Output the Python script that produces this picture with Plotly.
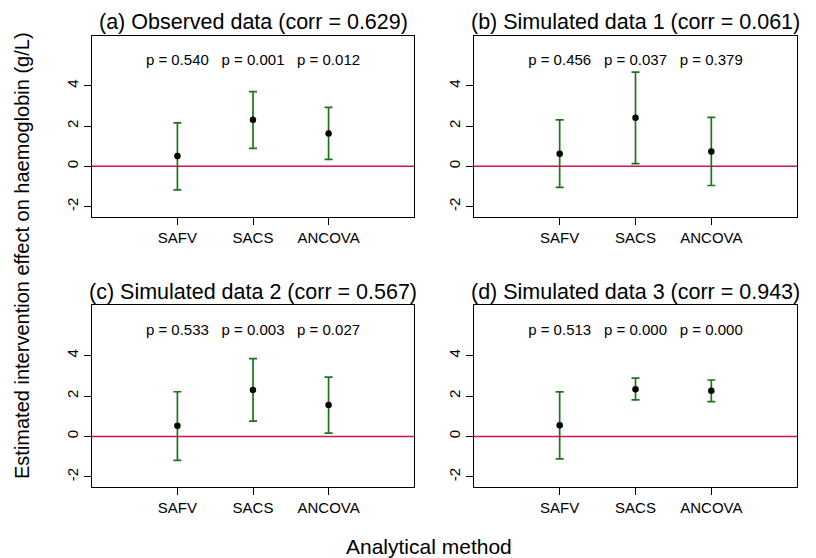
import plotly.graph_objects as go

methods = ["SAFV", "SACS", "ANCOVA"]
method_pos = [1, 2, 3]

titles = [
    "(a) Observed data (corr = 0.629)",
    "(b) Simulated data 1 (corr = 0.061)",
    "(c) Simulated data 2 (corr = 0.567)",
    "(d) Simulated data 3 (corr = 0.943)",
]

est_a = [0.51, 2.31, 1.63]
lo_a = [-1.17, 0.89, 0.35]
hi_a = [2.16, 3.71, 2.93]
p_a = ["0.540", "0.001", "0.012"]

est_b = [0.63, 2.41, 0.74]
lo_b = [-1.04, 0.14, -0.95]
hi_b = [2.31, 4.68, 2.43]
p_b = ["0.456", "0.037", "0.379"]

est_c = [0.53, 2.30, 1.55]
lo_c = [-1.18, 0.76, 0.16]
hi_c = [2.21, 3.85, 2.93]
p_c = ["0.533", "0.003", "0.027"]

est_d = [0.55, 2.33, 2.26]
lo_d = [-1.11, 1.81, 1.72]
hi_d = [2.20, 2.88, 2.79]
p_d = ["0.513", "0.000", "0.000"]

panels = [
    (est_a, lo_a, hi_a, p_a),
    (est_b, lo_b, hi_b, p_b),
    (est_c, lo_c, hi_c, p_c),
    (est_d, lo_d, hi_d, p_d),
]

yticks = [-2, 0, 2, 4]
p_label_y = 5.2

W, H = 816, 558
xdoms = [(92, 414), (474, 797)]
ydoms = [(35.5, 216.7), (305, 487)]

GREEN = "#1B751B"
RED = "#D6124A"
FONT = "Liberation Sans, Arial, sans-serif"

fig = go.Figure()
layout = dict(
    width=W, height=H, margin=dict(l=0, r=0, t=0, b=0),
    paper_bgcolor="white", plot_bgcolor="white", showlegend=False,
    font=dict(family=FONT, color="black"),
)
annotations = []
shapes = []

for i, (est, lo, hi, pv) in enumerate(panels):
    row, col = divmod(i, 2)
    n = i + 1
    xa = "xaxis" if n == 1 else f"xaxis{n}"
    ya = "yaxis" if n == 1 else f"yaxis{n}"
    xr = "x" if n == 1 else f"x{n}"
    yr = "y" if n == 1 else f"y{n}"
    x0, x1 = xdoms[col]
    t0, b0 = ydoms[row]
    layout[xa] = dict(
        domain=[x0 / W, x1 / W], anchor=yr, range=[-0.13, 4.13],
        tickvals=method_pos, ticktext=methods, ticks="outside", ticklen=7,
        tickcolor="black", showline=True, linecolor="black", linewidth=1,
        mirror=True, showgrid=False, zeroline=False,
        tickfont=dict(size=15, family=FONT), fixedrange=True,
    )
    layout[ya] = dict(
        domain=[1 - b0 / H, 1 - t0 / H], anchor=xr, range=[-2.5, 6.5],
        tickvals=yticks, ticktext=[str(v) for v in yticks], ticks="outside",
        ticklen=7, tickcolor="black", tickangle=-90, showline=True,
        linecolor="black", linewidth=1, mirror=True, showgrid=False,
        zeroline=False, tickfont=dict(size=15, family=FONT), fixedrange=True,
    )
    shapes.append(dict(
        type="line", xref=f"{xr} domain", yref=yr, x0=0, x1=1, y0=0, y1=0,
        line=dict(color=RED, width=1.5), layer="below",
    ))
    fig.add_trace(go.Scatter(
        x=method_pos, y=est, xaxis=xr, yaxis=yr, mode="markers",
        marker=dict(color="black", size=6.5),
        error_y=dict(
            type="data", symmetric=False,
            array=[h - e for h, e in zip(hi, est)],
            arrayminus=[e - l for e, l in zip(est, lo)],
            color=GREEN, thickness=1.7, width=4,
        ),
    ))
    fig.add_trace(go.Scatter(
        x=method_pos, y=[p_label_y] * 3, xaxis=xr, yaxis=yr, mode="text",
        text=[f"p = {p}" for p in pv], textposition="middle center",
        textfont=dict(size=15, family=FONT, color="black"),
    ))
    annotations.append(dict(
        text=titles[i], xref="paper", yref="paper",
        x=(x0 + x1) / 2 / W, y=1 - (t0 - 13) / H, xanchor="center",
        yanchor="middle", showarrow=False,
        font=dict(size=21.5, family=FONT, color="black"),
    ))

annotations.append(dict(
    text="Analytical method", xref="paper", yref="paper",
    x=429 / W, y=1 - 546 / H, xanchor="center", yanchor="middle",
    showarrow=False, font=dict(size=21, family=FONT, color="black"),
))
annotations.append(dict(
    text="Estimated intervention effect on haemoglobin (g/L)", xref="paper",
    yref="paper", x=22 / W, y=1 - 256 / H, xanchor="center", yanchor="middle",
    textangle=-90, showarrow=False,
    font=dict(size=20, family=FONT, color="black"),
))

layout["annotations"] = annotations
layout["shapes"] = shapes
fig.update_layout(**layout)
fig.write_html("out.html")
